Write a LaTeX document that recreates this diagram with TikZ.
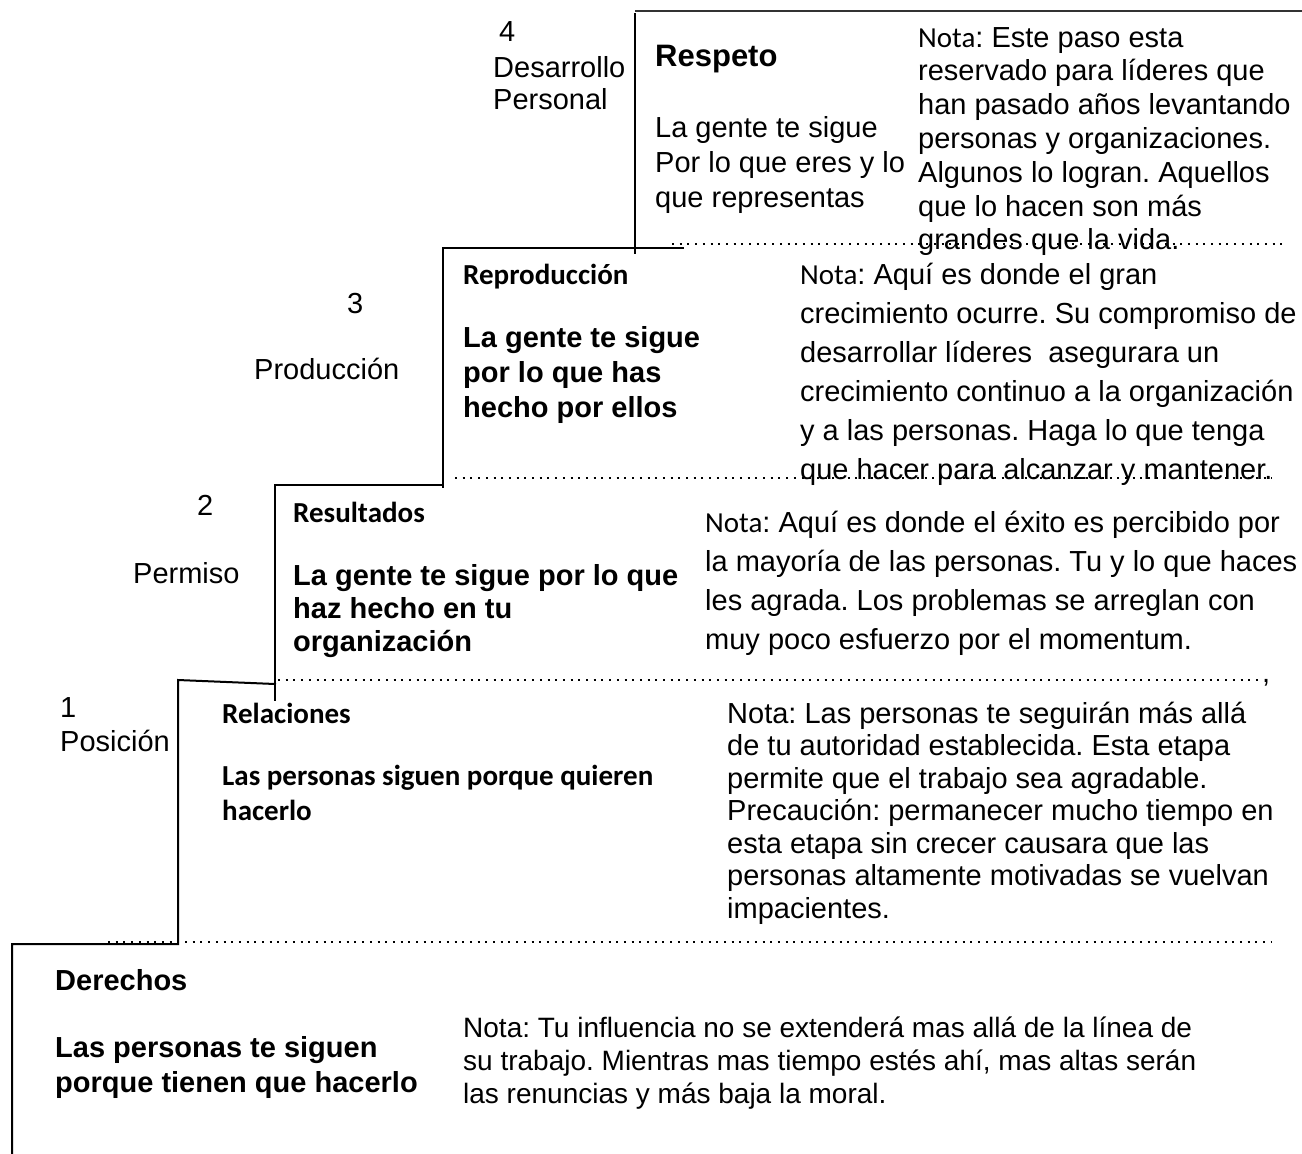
\documentclass[tikz,border=0pt]{standalone}
\usepackage{fontspec}
\setmainfont{Liberation Sans}
\newfontfamily\calfont{Carlito}
\newcommand{\stk}[2]{\vtop{\baselineskip=#1pt\relax\lineskiplimit=-100pt #2}}
\frenchspacing
\begin{document}
\begin{tikzpicture}[x=1pt,y=-1pt,
  txt/.style={anchor=base west,inner sep=0pt,font=\fontsize{29}{34}\selectfont},
  bld/.style={anchor=base west,inner sep=0pt,font=\fontsize{29}{34}\selectfont\bfseries},
  cal/.style={anchor=base west,inner sep=0pt,font=\fontsize{29}{34}\selectfont\calfont\bfseries},
  stair/.style={line width=2pt,line cap=rect},
  dots/.style={line width=2pt,dash pattern=on 2pt off 5.7pt}]
\useasboundingbox[fill=white] (0,0) rectangle (1302,1154);

% stair outline
\draw[line width=1.5pt,black!80] (635,11) -- (1302,11);
\draw[stair] (635,14) -- (635,253);
\draw[stair] (683,248) -- (443,248) -- (443,487);
\draw[stair] (443,485) -- (275,485) -- (275,700);
\draw[stair] (275,684) -- (178,680) -- (178,944) -- (12,944) -- (12,1154);

% dotted lines
\draw[dots] (672,244) -- (1284,244);
\draw[dots] (455,478) -- (1272,478);
\draw[dots] (278,680) -- (1262,680);
\node[txt] (comma) at (1262,682) {,};
\draw[dots] (108,942) -- (1272,942);

% level labels
\node[txt] (n4) at (499,41) {4};
\node[txt] (l4) at (493,77) {\stk{32}{\hbox{Desarrollo}\hbox{Personal}}};
\node[txt] (n3) at (347,313) {3};
\node[txt] (l3) at (254,379) {Producción};
\node[txt] (n2) at (197,515) {2};
\node[txt] (l2) at (133,583) {Permiso};
\node[txt] (n1) at (60,717) {1};
\node[txt] (l1) at (60,751) {Posición};

% step 4
\node[bld,font=\fontsize{31}{34}\selectfont\bfseries] (t4) at (655,66) {Respeto};
\node[txt] (d4) at (655,137) {\stk{35}{\hbox{La gente te sigue}\hbox{Por lo que eres y lo}\hbox{que representas}}};
\node[txt] (nota4) at (918,47) {\stk{33.8}{\hbox{{\calfont Nota}: Este paso esta}\hbox{reservado para líderes que}\hbox{han pasado años levantando}\hbox{personas y organizaciones.}\hbox{Algunos lo logran. Aquellos}\hbox{que lo hacen son más}\hbox{grandes que la vida.}}};

% step 3
\node[cal] (t3) at (463,284) {Reproducción};
\node[bld] (d3) at (463,347) {\stk{35}{\hbox{La gente te sigue}\hbox{por lo que has}\hbox{hecho por ellos}}};
\node[txt] (nota3) at (800,284) {\stk{39}{\hbox{{\calfont Nota}: Aquí es donde el gran}\hbox{crecimiento ocurre. Su compromiso de}\hbox{desarrollar líderes\ \ asegurara un}\hbox{crecimiento continuo a la organización}\hbox{y a las personas. Haga lo que tenga}\hbox{que hacer para alcanzar y mantener.}}};

% step 2
\node[cal] (t2) at (293,522) {Resultados};
\node[bld] (d2) at (293,585) {\stk{33}{\hbox{La gente te sigue por lo que}\hbox{haz hecho en tu}\hbox{organización}}};
\node[txt] (nota2) at (705,532) {\stk{39}{\hbox{{\calfont Nota}: Aquí es donde el éxito es percibido por}\hbox{la mayoría de las personas. Tu y lo que haces}\hbox{les agrada. Los problemas se arreglan con}\hbox{muy poco esfuerzo por el momentum.}}};

% step 1
\node[cal] (t1) at (222,723) {Relaciones};
\node[cal] (d1) at (222,785) {\stk{35}{\hbox{Las personas siguen porque quieren}\hbox{hacerlo}}};
\node[txt] (nota1) at (727,723) {\stk{32.5}{\hbox{Nota: Las personas te seguirán más allá}\hbox{de tu autoridad establecida. Esta etapa}\hbox{permite que el trabajo sea agradable.}\hbox{Precaución: permanecer mucho tiempo en}\hbox{esta etapa sin crecer causara que las}\hbox{personas altamente motivadas se vuelvan}\hbox{impacientes.}}};

% step 0
\node[bld] (t0) at (55,990) {Derechos};
\node[bld] (d0) at (55,1057) {\stk{35}{\hbox{Las personas te siguen}\hbox{porque tienen que hacerlo}}};
\node[txt,font=\fontsize{28}{33}\selectfont] (nota0) at (463,1037) {\stk{33}{\hbox{Nota: Tu influencia no se extenderá mas allá de la línea de}\hbox{su trabajo. Mientras mas tiempo estés ahí, mas altas serán}\hbox{las renuncias y más baja la moral.}}};
\end{tikzpicture}
\end{document}
